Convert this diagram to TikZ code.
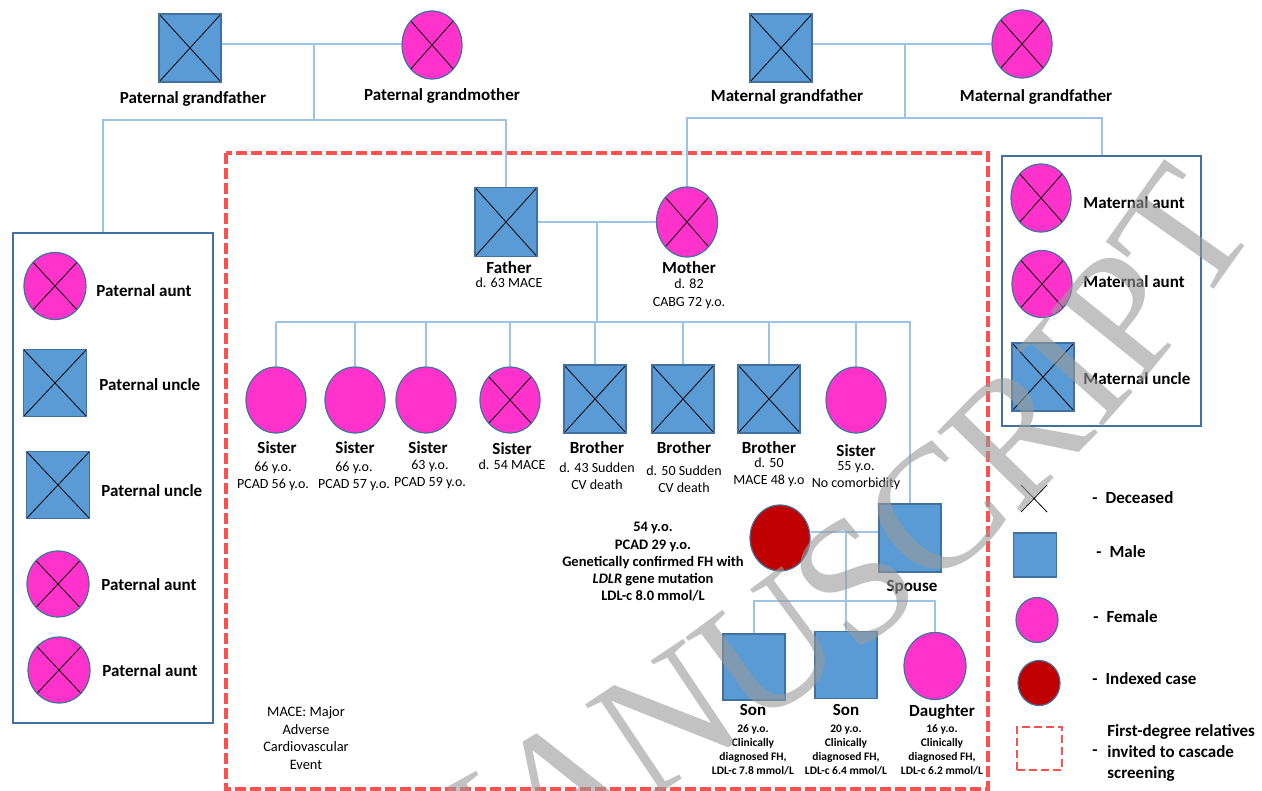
\documentclass[tikz,border=0pt]{standalone}
\usepackage{fontspec}
\setmainfont{Carlito}
\newfontfamily\wmfont{Liberation Serif}
\usetikzlibrary{positioning, shapes.geometric, decorations.text}

\definecolor{maleblue}{HTML}{5B9BD5}
\definecolor{edgeblue}{HTML}{41719C}
\definecolor{femalepink}{HTML}{FF33CC}
\definecolor{indexred}{HTML}{C00000}
\definecolor{linkblue}{HTML}{9DC3E6}
\definecolor{screenred}{HTML}{FF5050}
\definecolor{wmgrey}{HTML}{9A9A9A}

\tikzset{
	male/.style={rectangle, draw=edgeblue, fill=maleblue, line width=0.6pt, minimum width=31pt, minimum height=34pt},
	female/.style={ellipse, draw=edgeblue, fill=femalepink, line width=0.6pt, minimum width=30pt, minimum height=33pt},
	indexcase/.style={female, fill=indexred},
	dec/.style={path picture={\draw[black, line width=0.4pt]
		(path picture bounding box.north west) -- (path picture bounding box.south east)
		(path picture bounding box.north east) -- (path picture bounding box.south west);}},
	link/.style={draw=linkblue, line width=0.6pt},
	famebox/.style={draw=edgeblue, line width=0.8pt},
	screen/.style={draw=screenred, line width=1.7pt, dash pattern=on 5.5pt off 2pt},
	nm/.style={font=\fontsize{8.5}{10}\selectfont\bfseries},
	dt/.style={font=\fontsize{7}{8.5}\selectfont, align=center},
	kid/.style={font=\fontsize{5.75}{7}\selectfont\bfseries, align=center},
	lg/.style={nm, anchor=west}
}

\begin{document}
\begin{tikzpicture}[x=0.5pt, y=-0.5pt, every node/.style={inner sep=0pt}]
	\useasboundingbox (0,0) rectangle (1262,791);

	% frames
	\draw[screen] (226,153) rectangle (988,789);
	\node[famebox, anchor=north west, minimum width=100pt, minimum height=245pt] (pbox) at (12,232) {};
	\node[famebox, anchor=north west, minimum width=99.5pt, minimum height=135pt] (mbox) at (1001,155) {};

	% grandparents
	\node[male, dec] (pgf) at (190,48) {};
	\node[female, dec, minimum height=34pt] (pgm) at (432,45) {};
	\node[male, dec] (mgf) at (781,48) {};
	\node[female, dec, minimum height=34pt] (mgm) at (1022,44) {};
	\node[nm] at (193,99) {Paternal grandfather};
	\node[nm] at (442,96) {Paternal grandmother};
	\node[nm] at (787,97) {Maternal grandfather};
	\node[nm] at (1036,97) {Maternal grandfather};

	% parents
	\node[male, dec, minimum height=34.5pt] (fa) at (506,222) {};
	\node[female, dec, minimum width=30.5pt, minimum height=35pt] (mo) at (687,222) {};
	\node[nm] at (509,268) {Father};
	\node[dt] at (509,283) {d. 63 MACE};
	\node[nm] at (689,268) {Mother};
	\node[dt, font=\fontsize{7}{9}\selectfont] at (689,294) {d. 82\\CABG 72 y.o.};

	% siblings
	\node[female] (s1) at (276,400) {};
	\node[female] (s2) at (355,400) {};
	\node[female] (s3) at (426,400) {};
	\node[female, dec] (s4) at (510,400) {};
	\node[male, dec] (b1) at (595,399) {};
	\node[male, dec] (b2) at (683,399) {};
	\node[male, dec] (b3) at (769,399) {};
	\node[female] (s5) at (856,400) {};
	\node[nm] at (277,448) {Sister};
	\node[dt] at (273,476) {66 y.o.\\PCAD 56 y.o.};
	\node[nm] at (355,448) {Sister};
	\node[dt] at (354,476) {66 y.o.\\PCAD 57 y.o.};
	\node[nm] at (428,448) {Sister};
	\node[dt] at (430,474) {63 y.o.\\PCAD 59 y.o.};
	\node[nm] at (512,449) {Sister};
	\node[dt] at (512,465) {d. 54 MACE};
	\node[nm] at (597,448) {Brother};
	\node[dt] at (597,476) {d. 43 Sudden\\CV death};
	\node[nm] at (684,448) {Brother};
	\node[dt] at (684,479) {d. 50 Sudden\\CV death};
	\node[nm] at (769,448) {Brother};
	\node[dt] at (769,472) {d. 50\\MACE 48 y.o};
	\node[nm] at (856,451) {Sister};
	\node[dt] at (856,476) {55 y.o.\\No comorbidity};

	% index case and family
	\node[indexcase] (ix) at (780,538) {};
	\node[male, minimum height=34pt] (sp) at (910,538) {};
	\node[nm] at (912,587) {Spouse};
	\node[nm, font=\fontsize{7.25}{8.6}\selectfont\bfseries, align=center] at (653,562) {54 y.o.\\PCAD 29 y.o.\\Genetically confirmed FH with\\\textit{LDLR} gene mutation\\LDL-c 8.0 mmol/L};
	\node[male, minimum height=33pt] (c1) at (754,667) {};
	\node[male, minimum height=33.5pt] (c2) at (846,665) {};
	\node[female, minimum height=33.5pt, minimum width=31pt] (c3) at (935,666) {};
	\node[nm] at (753,710) {Son};
	\node[kid] at (753,750) {26 y.o.\\Clinically\\diagnosed FH,\\LDL-c 7.8 mmol/L};
	\node[nm] at (846,710) {Son};
	\node[kid] at (846,750) {20 y.o.\\Clinically\\diagnosed FH,\\LDL-c 6.4 mmol/L};
	\node[nm] at (942,712) {Daughter};
	\node[kid] at (942,750) {16 y.o.\\Clinically\\diagnosed FH,\\LDL-c 6.2 mmol/L};
	\node[dt, font=\fontsize{7.2}{8.85}\selectfont] at (306,738) {MACE: Major\\Adverse\\Cardiovascular\\Event};

	% paternal aunts and uncles
	\node[female, dec, minimum width=31pt, minimum height=33.5pt] (pa1) at (55,286) {};
	\node[male, dec, minimum width=31.5pt, minimum height=33.5pt] (pu1) at (55,383) {};
	\node[male, dec, minimum width=31.5pt, minimum height=33.5pt] (pu2) at (58,485) {};
	\node[female, dec, minimum width=31pt, minimum height=33pt] (pa2) at (58,584) {};
	\node[female, dec, minimum width=31pt, minimum height=33pt] (pa3) at (59,670) {};
	\node[lg] at (96,291) {Paternal aunt};
	\node[lg] at (99,385) {Paternal uncle};
	\node[lg] at (101,491) {Paternal uncle};
	\node[lg] at (101,585) {Paternal aunt};
	\node[lg] at (102,671) {Paternal aunt};

	% maternal aunts and uncle
	\node[female, dec, minimum height=34pt] (ma1) at (1041,198) {};
	\node[female, dec, minimum height=33.5pt] (ma2) at (1042,284) {};
	\node[male, dec] (mu1) at (1043,377) {};
	\node[lg] at (1083,203) {Maternal aunt};
	\node[lg] at (1083,282) {Maternal aunt};
	\node[lg] at (1083,379) {Maternal uncle};

	% legend
	\coordinate (k1) at (1021,485);
	\coordinate (k2) at (1047,512);
	\draw[line width=0.4pt] (k1) -- (k2) (k1 |- k2) -- (k2 |- k1);
	\node[male, minimum width=21.5pt, minimum height=22pt] (km) at (1035,555) {};
	\node[female, minimum width=21pt, minimum height=22.5pt] (kf) at (1037,620) {};
	\node[indexcase, minimum width=21pt, minimum height=22.5pt] (ki) at (1039,683) {};
	\node[screen, minimum width=22.5pt, minimum height=21.5pt, line width=1.3pt, dash pattern=on 4pt off 2pt] (ks) at (1039.5,748.5) {};
	\node[lg] at (1092,498) {-\hspace{4pt}Deceased};
	\node[lg] at (1096,552) {-\hspace{4pt}Male};
	\node[lg] at (1093,617) {-\hspace{4pt}Female};
	\node[lg] at (1092,679) {-\hspace{4pt}Indexed case};
	\node[lg] at (1092,753) {-};
	\node[lg, align=left, font=\fontsize{8.5}{10.4}\selectfont\bfseries] at (1107,753) {First-degree relatives\\invited to cascade\\screening};

	% lines of descent
	\coordinate (pj) at (314,44);
	\coordinate (pl) at (103,120);
	\coordinate (mj) at (905,44);
	\coordinate (ml) at (687,118);
	\coordinate (mr) at (1102,118);
	\coordinate (fj) at (597,222);
	\coordinate (sb) at (276,322);
	\coordinate (ij) at (846,532);
	\coordinate (cb) at (754,601);
	\draw[link] (pgf.east |- pj) -- (pgm.west |- pj);
	\draw[link] (pj) -- (pj |- pl);
	\draw[link] (pl |- pbox.north) -- (pl) -| (fa.north);
	\draw[link] (mgf.east |- mj) -- (mgm.west |- mj);
	\draw[link] (mj) -- (mj |- ml);
	\draw[link] (mo.north) -- (ml) -- (mr) -- (mr |- mbox.north);
	\draw[link] (fa.east |- fj) -- (mo.west |- fj);
	\draw[link] (fj) -- (fj |- sb);
	\draw[link] (sb) -- (sb -| sp.north) -- (sp.north);
	\foreach \p in {s1, s2, s3, s4, b1, b2, b3, s5}
		\draw[link] (\p.north) -- (\p.north |- sb);
	\draw[link] (ix.east |- ij) -- (sp.west |- ij);
	\draw[link] (ij) -- (c2.north);
	\draw[link] (c1.north) -- (cb) -- (cb -| c3.north) -- (c3.north);

	% watermark
	\coordinate (w0) at (400,945);
	\coordinate (w1) at (1252,236);
	\begin{scope}[opacity=0.6]
		\path[decorate, decoration={text along path, text align={fit to path},
			text={|\wmfont\fontsize{88}{88}\selectfont\color{wmgrey}|MANUSCRIPT}}]
			(w0) .. controls (805,730) and (1075,500) .. (w1);
	\end{scope}

\end{tikzpicture}
\end{document}
